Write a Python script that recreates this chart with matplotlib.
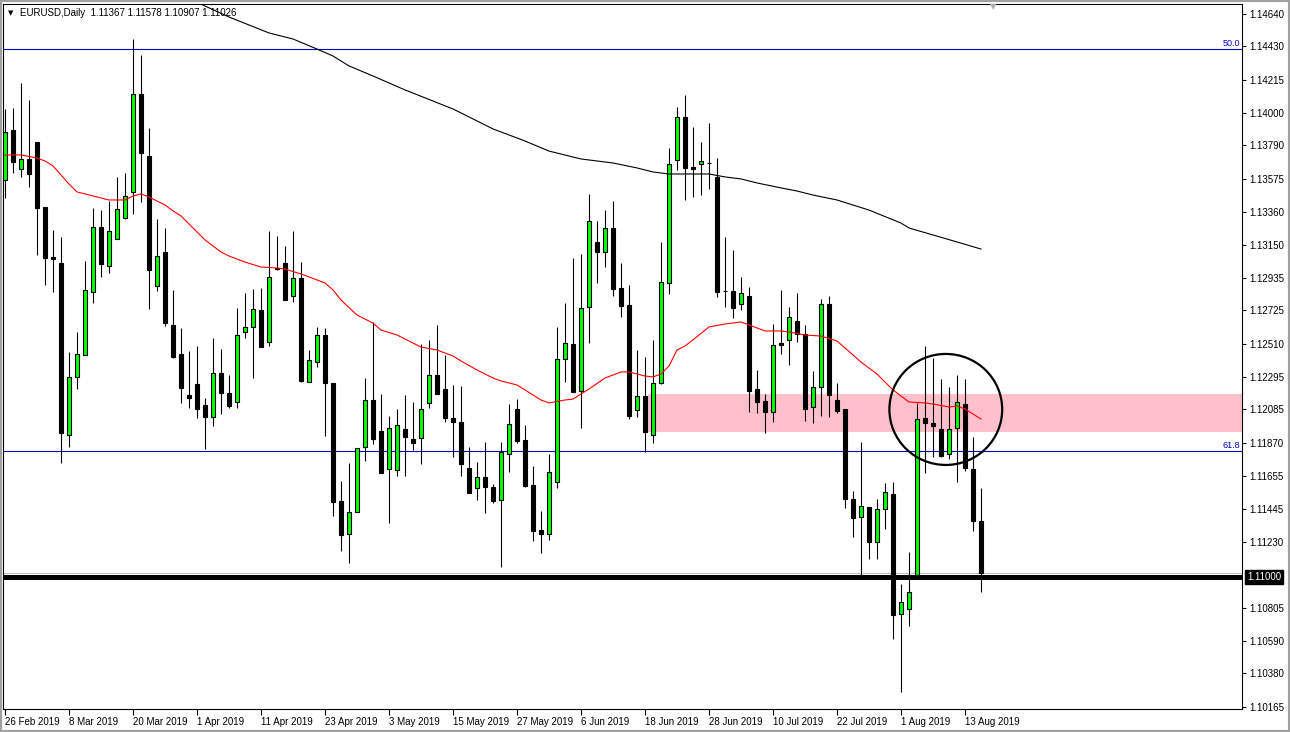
import matplotlib
matplotlib.use("Agg")
import matplotlib.pyplot as plt
from matplotlib.patches import Ellipse, Rectangle
import numpy as np

plt.rcParams["font.family"] = ["Liberation Sans", "DejaVu Sans"]

W, H, DPI = 1290, 732, 100

# EURUSD daily candles, bar 0 = 26 Feb 2019
opens = [
    1.13567, 1.13890, 1.13638, 1.13703, 1.13813, 1.13393, 1.13070, 1.13031, 1.11920, 1.12295,
    1.12437, 1.12844, 1.13264, 1.13012, 1.13186, 1.13322, 1.13490, 1.14123, 1.13722, 1.12882,
    1.13102, 1.12631, 1.12443, 1.12178, 1.12249, 1.12114, 1.12036, 1.12320, 1.12191, 1.12133,
    1.12585, 1.12618, 1.12727, 1.12521, 1.12999, 1.13031, 1.12818, 1.12934, 1.12262, 1.12391,
    1.12566, 1.12256, 1.11494, 1.11280, 1.11422, 1.11842, 1.12146, 1.11946, 1.11700, 1.11694,
    1.11959, 1.11894, 1.11900, 1.12127, 1.12308, 1.12217, 1.12030, 1.12004, 1.11707, 1.11578,
    1.11649, 1.11584, 1.11500, 1.11797, 1.12088, 1.11888, 1.11597, 1.11306, 1.11280, 1.11616,
    1.12411, 1.12508, 1.12204, 1.12747, 1.13167, 1.13102, 1.13257, 1.12870, 1.12760, 1.12081,
    1.12172, 1.11920, 1.12256, 1.12902, 1.13696, 1.13974, 1.13651, 1.13671, 1.13677, 1.13587,
    1.12850, 1.12850, 1.12766, 1.12818, 1.12217, 1.12140, 1.12068, 1.12514, 1.12534, 1.12656,
    1.12572, 1.12101, 1.12230, 1.12766, 1.12146, 1.12088, 1.11506, 1.11390, 1.11455, 1.11229,
    1.11442, 1.11539, 1.10764, 1.10796, 1.11016, 1.12030, 1.11997, 1.11959, 1.11797, 1.11965,
    1.12120, 1.11700, 1.11367,
]
highs = [
    1.14026, 1.14032, 1.14194, 1.14084, 1.13813, 1.13393, 1.13244, 1.13199, 1.12456, 1.12585,
    1.13044, 1.13386, 1.13373, 1.13432, 1.13587, 1.13612, 1.14478, 1.14375, 1.13903, 1.13315,
    1.13257, 1.12857, 1.12611, 1.12463, 1.12495, 1.12159, 1.12547, 1.12475, 1.12308, 1.12740,
    1.12837, 1.12863, 1.12870, 1.13238, 1.13205, 1.13141, 1.13238, 1.13037, 1.12469, 1.12618,
    1.12611, 1.12256, 1.11623, 1.11739, 1.11836, 1.12288, 1.12650, 1.12185, 1.12043, 1.12088,
    1.12178, 1.12133, 1.12508, 1.12534, 1.12631, 1.12437, 1.12243, 1.12236, 1.11842, 1.11745,
    1.11875, 1.11603, 1.11875, 1.12120, 1.12152, 1.11985, 1.11720, 1.11429, 1.11797, 1.12618,
    1.12773, 1.13063, 1.13089, 1.13477, 1.13302, 1.13373, 1.13432, 1.13031, 1.12889, 1.12469,
    1.12424, 1.12534, 1.13167, 1.13774, 1.14039, 1.14116, 1.13910, 1.13813, 1.13935, 1.13709,
    1.13199, 1.13115, 1.12941, 1.12876, 1.12340, 1.12185, 1.12637, 1.12857, 1.12747, 1.12837,
    1.12631, 1.12333, 1.12798, 1.12818, 1.12256, 1.12088, 1.11558, 1.11875, 1.11455, 1.11506,
    1.11610, 1.11616, 1.10957, 1.11164, 1.12127, 1.12495, 1.12417, 1.12282, 1.12230, 1.12308,
    1.12282, 1.11907, 1.11578,
]
lows = [
    1.13451, 1.13612, 1.13587, 1.13522, 1.13083, 1.12889, 1.12844, 1.11739, 1.11842, 1.12217,
    1.12437, 1.12773, 1.12941, 1.12966, 1.13186, 1.13315, 1.13348, 1.13425, 1.12734, 1.12850,
    1.12624, 1.12417, 1.12127, 1.12094, 1.12030, 1.11829, 1.11978, 1.12056, 1.12094, 1.12094,
    1.12547, 1.12288, 1.12488, 1.12495, 1.12986, 1.12792, 1.12779, 1.12262, 1.12262, 1.12359,
    1.11913, 1.11397, 1.11171, 1.11093, 1.11422, 1.11752, 1.11862, 1.11674, 1.11351, 1.11655,
    1.11655, 1.11823, 1.11733, 1.12094, 1.12185, 1.12004, 1.11778, 1.11655, 1.11545, 1.11500,
    1.11416, 1.11481, 1.11067, 1.11681, 1.11868, 1.11584, 1.11235, 1.11158, 1.11242, 1.11578,
    1.12262, 1.12198, 1.11965, 1.12514, 1.12902, 1.13005, 1.12818, 1.12682, 1.12023, 1.12036,
    1.11810, 1.11868, 1.12249, 1.12831, 1.13632, 1.13438, 1.13457, 1.13470, 1.13509, 1.12811,
    1.12747, 1.12676, 1.12727, 1.12068, 1.12062, 1.11933, 1.12004, 1.12443, 1.12372, 1.12521,
    1.12010, 1.11997, 1.12043, 1.12036, 1.12062, 1.11448, 1.11261, 1.11016, 1.11119, 1.11119,
    1.11313, 1.10602, 1.10260, 1.10686, 1.11016, 1.11674, 1.11778, 1.11778, 1.11765, 1.11616,
    1.11687, 1.11300, 1.10907,
]
closes = [
    1.13877, 1.13683, 1.13703, 1.13606, 1.13386, 1.13063, 1.13057, 1.11933, 1.12295, 1.12443,
    1.12857, 1.13264, 1.13025, 1.13238, 1.13380, 1.13464, 1.14123, 1.13742, 1.12986, 1.13076,
    1.12643, 1.12424, 1.12224, 1.12159, 1.12088, 1.12036, 1.12320, 1.12191, 1.12107, 1.12566,
    1.12618, 1.12734, 1.12488, 1.12941, 1.12992, 1.12792, 1.12934, 1.12269, 1.12404, 1.12566,
    1.12256, 1.11487, 1.11274, 1.11422, 1.11836, 1.12146, 1.11894, 1.11674, 1.11965, 1.11985,
    1.11907, 1.11868, 1.12088, 1.12308, 1.12185, 1.12030, 1.12004, 1.11733, 1.11545, 1.11649,
    1.11584, 1.11494, 1.11810, 1.11991, 1.11881, 1.11590, 1.11300, 1.11280, 1.11681, 1.12411,
    1.12514, 1.12198, 1.12740, 1.13302, 1.13102, 1.13257, 1.12863, 1.12753, 1.12043, 1.12172,
    1.11939, 1.12256, 1.12908, 1.13671, 1.13974, 1.13645, 1.13638, 1.13690, 1.13677, 1.12844,
    1.12850, 1.12740, 1.12837, 1.12204, 1.12133, 1.12068, 1.12501, 1.12501, 1.12682, 1.12572,
    1.12088, 1.12230, 1.12766, 1.12178, 1.12075, 1.11506, 1.11384, 1.11461, 1.11229, 1.11442,
    1.11552, 1.10757, 1.10841, 1.10908, 1.12023, 1.11997, 1.11978, 1.11784, 1.11959, 1.12133,
    1.11707, 1.11364, 1.11026,
]

# moving averages, read at selected bars
ma_red_bar = [0, 2, 4, 5, 6, 7, 8, 9, 10, 11, 12, 13, 15, 16, 17, 18, 20, 21, 22, 23,
              25, 27, 28, 30, 32, 34, 35, 37, 38, 40, 41, 42, 44, 46, 47, 49, 51, 52, 54, 56,
              57, 59, 61, 62, 64, 65, 67, 68, 70, 71, 73, 75, 77, 78, 80, 81, 82, 83, 84, 85,
              86, 88, 90, 92, 93, 95, 97, 98, 100, 102, 104, 106, 107, 109, 110, 111, 113, 115,
              116, 118, 119, 120, 122]
ma_red_val = [1.13729, 1.13729, 1.13709, 1.13690, 1.13658, 1.13600, 1.13541, 1.13490, 1.13477,
              1.13464, 1.13451, 1.13438, 1.13438, 1.13464, 1.13477, 1.13457, 1.13406, 1.13367,
              1.13335, 1.13283, 1.13180, 1.13102, 1.13076, 1.13037, 1.13005, 1.12999, 1.12992,
              1.12960, 1.12941, 1.12902, 1.12857, 1.12792, 1.12695, 1.12643, 1.12598, 1.12566,
              1.12514, 1.12488, 1.12469, 1.12430, 1.12398, 1.12340, 1.12288, 1.12269, 1.12243,
              1.12211, 1.12146, 1.12127, 1.12146, 1.12152, 1.12217, 1.12288, 1.12327, 1.12327,
              1.12301, 1.12295, 1.12314, 1.12366, 1.12469, 1.12495, 1.12534, 1.12618, 1.12637,
              1.12650, 1.12631, 1.12592, 1.12592, 1.12585, 1.12566, 1.12559, 1.12527, 1.12437,
              1.12391, 1.12314, 1.12262, 1.12211, 1.12133, 1.12127, 1.12120, 1.12101, 1.12107,
              1.12088, 1.12023]

ma_blk_bar = [24, 25, 28, 33, 36, 39, 41, 43, 46, 50, 56, 61, 65, 68, 72, 76, 79, 81, 83,
              88, 90, 92, 94, 97, 99, 101, 104, 108, 112, 113, 116, 119, 122]
ma_blk_val = [1.14717, 1.14691, 1.14620, 1.14517, 1.14478, 1.14413, 1.14368, 1.14304, 1.14239,
              1.14149, 1.14026, 1.13897, 1.13819, 1.13754, 1.13703, 1.13677, 1.13645, 1.13619,
              1.13606, 1.13606, 1.13587, 1.13574, 1.13548, 1.13516, 1.13496, 1.13470, 1.13438,
              1.13373, 1.13289, 1.13257, 1.13212, 1.13167, 1.13121]

date_labels = ["26 Feb 2019", "8 Mar 2019", "20 Mar 2019", "1 Apr 2019", "11 Apr 2019",
               "23 Apr 2019", "3 May 2019", "15 May 2019", "27 May 2019", "6 Jun 2019",
               "18 Jun 2019", "28 Jun 2019", "10 Jul 2019", "22 Jul 2019", "1 Aug 2019",
               "13 Aug 2019"]
price_ticks = [1.14640, 1.14430, 1.14215, 1.14000, 1.13790, 1.13575, 1.13360, 1.13150,
               1.12935, 1.12725, 1.12510, 1.12295, 1.12085, 1.11870, 1.11655, 1.11445,
               1.11230, 1.10805, 1.10590, 1.10380, 1.10165]

fib_levels = [1.14414, 1.11818]
fib_names = ["50.0", "61.8"]
support = 1.11000
zone_start, zone_lo, zone_hi = 80.4, 1.11939, 1.12185
circle_x, circle_y, circle_w, circle_h = 117.6, 1.12085, 14.1, 0.00717

# ------------------------------------------------------------------
fig = plt.figure(figsize=(W / DPI, H / DPI), dpi=DPI)
fig.patch.set_facecolor("white")
ax = fig.add_axes([3 / W, 1 - 709 / H, (1242 - 3) / W, (709 - 4) / H])
ax.set_xlim(-0.25, 154.625)
ax.set_ylim(1.10150, 1.14704)

o, h, l, c = map(np.array, (opens, highs, lows, closes))
bar = np.arange(len(o))
up = c >= o

# support / resistance zone
ax.add_patch(Rectangle((zone_start, zone_lo), 200, zone_hi - zone_lo,
                       facecolor="#ffc0cb", edgecolor="none", zorder=1))

for lvl, name in zip(fib_levels, fib_names):
    ax.axhline(lvl, color="#0000c8", lw=0.8, zorder=2)
    ax.annotate(name, xy=(1, lvl), xycoords=("axes fraction", "data"),
                xytext=(-2, 1), textcoords="offset pixels",
                ha="right", va="bottom", fontsize=6.5, color="#0000c8")

ax.axhline(closes[-1], color="#c0c0c0", lw=0.8, zorder=2)

ax.vlines(bar, l, h, color="black", lw=0.8, zorder=3)
ax.bar(bar[up], (c - o)[up], bottom=o[up], width=0.56, color="#00ff00",
       edgecolor="black", lw=0.8, zorder=4)
ax.bar(bar[~up], (o - c)[~up], bottom=c[~up], width=0.56, color="black",
       edgecolor="black", lw=0.8, zorder=4)

ax.plot(ma_red_bar, ma_red_val, color="#ff0000", lw=0.8, zorder=5)
ax.plot(ma_blk_bar, ma_blk_val, color="black", lw=0.8, zorder=5)

ax.axhline(support, color="black", lw=3.6, zorder=6)
ax.add_patch(Ellipse((circle_x, circle_y), circle_w, circle_h, fill=False,
                     edgecolor="black", lw=1.6, zorder=7))

# axes styling
for s in ax.spines.values():
    s.set_linewidth(0.8)
ax.yaxis.tick_right()
ax.set_yticks(price_ticks)
ax.set_yticklabels([f"{v:.5f}" for v in price_ticks])
ax.set_xticks(np.arange(len(date_labels)) * 8)
ax.set_xticklabels(date_labels)
for t in ax.get_xticklabels():
    t.set_horizontalalignment("left")
ax.tick_params(axis="y", direction="out", length=3, width=0.8, pad=2, labelsize=7)
ax.tick_params(axis="x", direction="out", length=4, width=0.8, pad=1.5, labelsize=7)

ax.annotate(f"{support:.5f}", xy=(1, support), xycoords=("axes fraction", "data"),
            xytext=(5, 0), textcoords="offset pixels", ha="left", va="center",
            fontsize=7, color="white", zorder=10, annotation_clip=False,
            bbox=dict(boxstyle="square,pad=0.2", fc="black", ec="black"))

# header
fig.text(8 / W, 1 - 13 / H, "\u25BC", fontsize=5, va="center", ha="left",
         family=["DejaVu Sans"])
fig.text(20 / W, 1 - 13 / H,
         f"EURUSD,Daily  {opens[-1]:.5f} {highs[-1]:.5f} {lows[-1]:.5f} {closes[-1]:.5f}",
         fontsize=7, va="center", ha="left")
fig.text(993 / W, 1 - 7 / H, "\u25BC", fontsize=6, va="center", ha="center",
         color="#b0b0b0", family=["DejaVu Sans"])

fig.patches.append(Rectangle((0, 0), 1, 1, transform=fig.transFigure, fill=False,
                             edgecolor="#a0a0a0", lw=3))

fig.savefig("out.png", dpi=DPI)
